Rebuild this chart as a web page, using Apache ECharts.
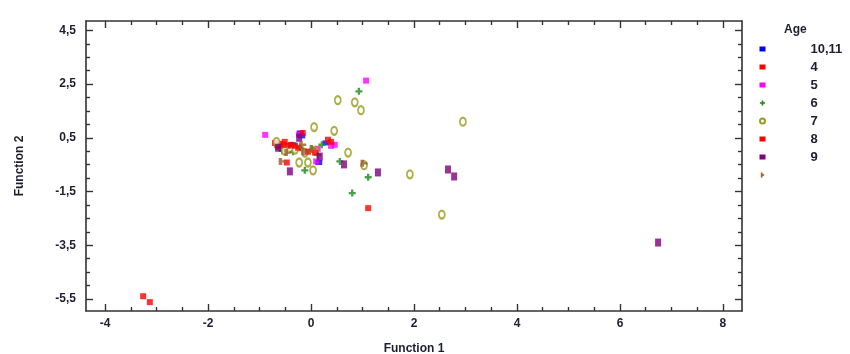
<!DOCTYPE html>
<html><head><meta charset="utf-8">
<script src="https://cdn.jsdelivr.net/npm/echarts@6/dist/echarts.min.js"></script>
<style>html,body{margin:0;padding:0;background:#fff}#c{width:850px;height:354px}</style>
</head><body><div id="c"></div>
<script>
// ---- data ----
const xTicks = [-4, -2, 0, 2, 4, 6, 8];
const yTicks = [4.5, 2.5, 0.5, -1.5, -3.5, -5.5];
const xLabel = 'Function 1';
const yLabel = 'Function 2';
const legendTitle = 'Age';
const groupNames = ['10,11', '4', '5', '6', '7', '8', '9', ''];

const age10_11 = [[-0.21,0.68],[-0.18,0.57],[0.29,0.31],[0.15,-0.42],[-0.35,0.24]];
const age4 = [[-3.26,-5.40],[-3.13,-5.62],[-0.70,0.31],[-0.60,0.28],[-0.51,0.35],[-0.45,0.20],[-0.47,-0.42],[-0.64,0.17],[-0.56,0.09],[-0.66,0.24]];
const age5 = [[1.07,2.63],[-0.89,0.61],[0.46,0.24],[0.10,-0.38],[0.39,0.20],[-0.23,0.61],[0.13,0.09]];
const age6 = [[0.93,2.23],[1.11,-0.97],[0.80,-1.56],[0.56,-0.38],[-0.12,-0.71],[-0.35,-0.02],[0.02,0.06],[0.21,0.24],[-0.56,0.02],[0.13,-0.13],[-0.21,0.13]];
const age7 = [[2.95,1.10],[0.52,1.90],[0.85,1.82],[0.97,1.53],[0.45,0.76],[0.06,0.90],[0.72,-0.05],[1.92,-0.86],[2.54,-2.36],[1.03,-0.52],[0.04,-0.71],[-0.23,-0.42],[-0.06,-0.42],[-0.51,0.02],[-0.31,0.06],[-0.12,-0.05],[0.08,0.02],[-0.67,0.35]];
const age8 = [[-0.16,0.68],[0.33,0.43],[1.11,-2.12],[-0.06,-0.02],[0.08,-0.05],[-0.39,0.24],[-0.31,0.20],[-0.25,0.13],[0.39,0.35],[-0.53,0.24]];
const age9 = [[6.74,-3.40],[2.66,-0.68],[2.78,-0.94],[1.30,-0.79],[0.64,-0.49],[-0.41,-0.75],[0.17,-0.20],[-0.64,0.13],[-0.23,0.50]];
const ageOther = [[1.03,-0.45],[-0.56,-0.38],[-0.16,0.24],[-0.12,-0.02],[0.04,0.10],[-0.45,-0.05]];

const groupData = [age10_11, age4, age5, age6, age7, age8, age9, ageOther];

// ---- styles ----
const colors = ['#0000ff','#ff0000','#ff00ff','#1a8a1a','#9a9a1e','#ff0000','#800080','#9a5a2a'];
const crossPath = 'path://M2,0H4V2H6V4H4V6H2V4H0V2H2Z';
const tPath = 'path://M2,0H4V2H6V4H4V6H2Z';
const symbols = ['rect','rect','rect',crossPath,'emptyCircle','rect','rect',tPath];
const sizes = [[7,5],[6,6],[6,6],[7,7],[6,8],[6,6],[6,8],[7,7]];

const X_MIN = -4.37, X_MAX = 8.37, Y_MIN = -5.95, Y_MAX = 4.85;
const fmt = v => String(v).replace('.', ',');
function minors(arr, step) {
  const out = [];
  const lo = Math.min(...arr), hi = Math.max(...arr);
  for (let v = lo; v <= hi + 1e-9; v += step) {
    const r = Math.round(v * 100) / 100;
    if (!arr.some(a => Math.abs(a - r) < 1e-6)) out.push(r);
  }
  return out;
}
const xMinor = minors(xTicks, 0.5);
const yMinor = minors(yTicks, 0.5);
const lineStyle = { color: '#333', width: 1.6 };
const textCol = '#1e1e32';
const fontFam = '"Liberation Sans", Arial, sans-serif';

function mkAxis(isX, pos, ticks, major, withLabel, withLine) {
  return {
    type: 'value', position: pos, min: isX ? X_MIN : Y_MIN, max: isX ? X_MAX : Y_MAX,
    gridIndex: 0,
    axisLine: { show: withLine, onZero: false, lineStyle },
    axisTick: { show: true, inside: true, length: major ? 7 : 4, customValues: ticks, lineStyle: { color: '#333', width: 1.4 } },
    axisLabel: { show: withLabel, customValues: ticks, formatter: fmt, color: textCol, fontWeight: 'bold', fontSize: 12, fontFamily: fontFam, margin: isX ? 7 : 10 },
    splitLine: { show: false }
  };
}

const nameStyle = { color: textCol, fontWeight: 'bold', fontSize: 12, fontFamily: fontFam };
const xAxes = [
  Object.assign(mkAxis(true, 'bottom', xTicks, true, true, true), {
    name: xLabel, nameLocation: 'middle', nameGap: 32, nameTextStyle: nameStyle
  }),
  mkAxis(true, 'bottom', xMinor, false, false, false),
  mkAxis(true, 'top', xTicks, true, false, true),
  mkAxis(true, 'top', xMinor, false, false, false)
];
const yAxes = [
  Object.assign(mkAxis(false, 'left', yTicks, true, true, true), {
    name: yLabel, nameLocation: 'middle', nameGap: 60, nameTextStyle: nameStyle
  }),
  mkAxis(false, 'left', yMinor, false, false, false),
  mkAxis(false, 'right', yTicks, true, false, true),
  mkAxis(false, 'right', yMinor, false, false, false)
];

const seriesNames = groupNames.map(n => n === '' ? '\u200b' : n);
const series = groupData.map((d, i) => ({
  name: seriesNames[i], type: 'scatter', xAxisIndex: 0, yAxisIndex: 0,
  data: d, symbol: symbols[i], symbolSize: sizes[i],
  itemStyle: symbols[i] === 'emptyCircle'
    ? { color: colors[i], borderColor: colors[i], borderWidth: 1.6 }
    : { color: colors[i] },
  z: 3
}));

const chart = echarts.init(document.getElementById('c'), null, { renderer: 'canvas' });
chart.setOption({
  animation: false,
  backgroundColor: '#fff',
  title: { text: legendTitle, left: 779, top: 19, textStyle: { color: textCol, fontWeight: 'bold', fontSize: 12, fontFamily: fontFam } },
  grid: { left: 86, right: 108, top: 21, bottom: 43, containLabel: false, outerBoundsMode: 'none' },
  xAxis: xAxes,
  yAxis: yAxes,
  legend: {
    orient: 'vertical', left: 754, top: 36, itemGap: 2, itemWidth: 6, itemHeight: 5,
    selectedMode: false,
    data: seriesNames.map((n, i) => ({ name: n, icon: symbols[i], itemStyle: { color: colors[i], opacity: 1 } })),
    textStyle: { color: textCol, fontWeight: 'bold', fontSize: 13, fontFamily: fontFam, lineHeight: 14, padding: [0, 0, 2, 40] }
  },
  series
});
</script></body></html>
